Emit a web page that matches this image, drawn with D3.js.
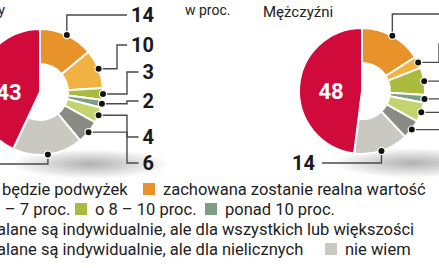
<!DOCTYPE html>
<html>
<head>
<meta charset="utf-8">
<script src="https://cdn.jsdelivr.net/npm/d3@7"></script>
<style>
  body { margin: 0; background: #fff; }
  svg { display: block; }
  text { font-family: Roboto, "Liberation Sans", sans-serif; }
</style>
</head>
<body>
<script>
// kategorie odpowiedzi (kolejnosc jak na wykresie, od godz. 12 zgodnie z zegarem)
var categories = ["zachowana zostanie realna wartość", "o 3 – 7 proc.", "o 8 – 10 proc.", "ponad 10 proc.",
  "ustalane są indywidualnie, ale dla wszystkich lub większości",
  "ustalane są indywidualnie, ale dla nielicznych", "nie wiem", "nie będzie podwyżek"];
var kobiety = [14, 10, 3, 2, 4, 6, 18, 43];
var mezczyzni = [16, 3, 7, 2, 5, 5, 14, 48];
var colors = ["#e8922a", "#f1b143", "#a9ba3e", "#7e9e84", "#c3d46f", "#8b8b86", "#c9c9c1", "#d10a3c"];
var titles = ["Kobiety", "Mężczyźni"];

var width = 439, height = 268;
var svg = d3.select("body").append("svg")
  .attr("width", width)
  .attr("height", height);

var defs = svg.append("defs");
var grad = defs.append("radialGradient").attr("id", "shadow");
grad.append("stop").attr("offset", "0%").attr("stop-color", "#8f8f8f").attr("stop-opacity", 0.7);
grad.append("stop").attr("offset", "100%").attr("stop-color", "#8f8f8f").attr("stop-opacity", 0);

var R = 63, r0 = 28;

var pie = d3.pie().sort(null).value(function(d){ return d; });
var arcRing = d3.arc().outerRadius(R).innerRadius(r0);
var arcFull = d3.arc().outerRadius(R).innerRadius(0);

// polozenie opisow po prawej (wzgledem srodka kola)
var labelY = [-77, -47, -20, 9, 45, 71];
var elbowX = [null, 77, 87, 87, 87, 87];

var drawDonut = function(values, cx, cy)
{
  var g = svg.append("g").attr("transform", "translate(" + cx + "," + cy + ")");

  g.append("ellipse")
    .attr("cx", 50).attr("cy", 72)
    .attr("rx", 80).attr("ry", 15)
    .attr("fill", "url(#shadow)");

  var arcs = pie(values);
  var last = arcs.length - 1;

  g.selectAll("path.slice")
    .data(arcs)
    .enter()
    .append("path")
    .attr("class", "slice")
    .attr("d", function(d, i){ return i === last ? arcFull(d) : arcRing(d); })
    .attr("fill", function(d, i){ return colors[i]; })
    .attr("stroke", "#fff")
    .attr("stroke-width", 2);

  // liczba w czerwonym wycinku
  g.append("text")
    .attr("x", -31).attr("y", 8)
    .attr("text-anchor", "middle")
    .attr("fill", "#fff")
    .attr("font-weight", 700)
    .attr("font-size", 22)
    .text(values[last]);

  // odnosniki
  arcs.forEach(function(d, i)
  {
    if (i === last) return;
    var a = (d.startAngle + d.endAngle) / 2;
    var px = R * Math.sin(a), py = -R * Math.cos(a);
    var t = g.append("text")
      .attr("font-weight", 700)
      .attr("font-size", 20)
      .attr("fill", "#1a1a1a")
      .attr("text-anchor", "end")
      .text(d.data);
    var path;
    if (i === last - 1)
    {
      // szary wycinek - opis na dole z lewej
      t.attr("x", -47).attr("y", 79);
      path = "M" + px + "," + py + "V" + 72 + "H" + (-40);
    }
    else
    {
      var ly = labelY[i];
      t.attr("x", 114).attr("y", ly + 7);
      var endX = t.node().getBBox().x - 4;
      if (i === 0) path = "M" + px + "," + py + "V" + ly + "H" + endX;
      else path = "M" + px + "," + py + "H" + elbowX[i] + "V" + ly + "H" + endX;
    }
    g.insert("path", "circle")
      .attr("d", path)
      .attr("fill", "none")
      .attr("stroke", "#4a4a4a")
      .attr("stroke-width", 1.4);
    g.append("circle")
      .attr("cx", px).attr("cy", py)
      .attr("r", 3.6)
      .attr("fill", "#111")
      .attr("stroke", "#fff")
      .attr("stroke-width", 1.2);
  });
}

drawDonut(kobiety, 40, 92);
drawDonut(mezczyzni, 362, 91);

// naglowki
svg.append("text").attr("x", 5).attr("y", 15).attr("text-anchor", "end")
  .attr("font-size", 15).attr("fill", "#222").text(titles[0]);
svg.append("text").attr("x", 185).attr("y", 15)
  .attr("font-size", 14).attr("fill", "#222").text("w proc.");
svg.append("text").attr("x", 263).attr("y", 17)
  .attr("font-size", 15).attr("fill", "#222").text(titles[1]);

// legenda: [indeks kategorii, x tekstu, wiersz]
var legendItems = [
  [7, -24, 0], [0, 163, 0],
  [1, -22, 1], [2, 95, 1], [3, 225, 1],
  [4, -26, 2],
  [5, -26, 3], [6, 345, 3]
];
var rowY = [195, 215, 235, 255];

var legend = svg.append("g");
legendItems.forEach(function(it)
{
  var y = rowY[it[2]];
  legend.append("rect")
    .attr("x", it[1] - 20).attr("y", y - 12)
    .attr("width", 12).attr("height", 12)
    .attr("fill", colors[it[0]]);
  legend.append("text")
    .attr("x", it[1]).attr("y", y)
    .attr("font-size", 16.5)
    .attr("fill", "#222")
    .text(categories[it[0]]);
});
</script>
</body>
</html>
